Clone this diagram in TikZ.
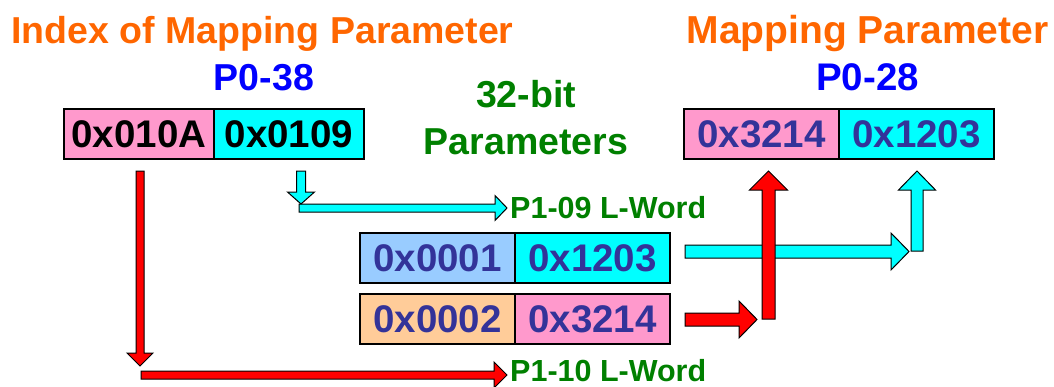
\documentclass[tikz,border=0pt]{standalone}
\usepackage{fontspec}
\setmainfont{Liberation Sans}
\usepackage{xcolor}
\usetikzlibrary{calc,positioning}

\definecolor{titleorange}{HTML}{FF6600}
\definecolor{parblue}{HTML}{0000FF}
\definecolor{wordgreen}{HTML}{008000}
\definecolor{hexblue}{HTML}{333399}
\definecolor{cellpink}{HTML}{FF99CC}
\definecolor{cellcyan}{HTML}{00FFFF}
\definecolor{cellblue}{HTML}{99CCFF}
\definecolor{cellorange}{HTML}{FFCC99}

% block arrow: fill, from, to, shaft half width, head half width, head length
\newcommand{\blkarrow}[6]{%
  \path ($(#3)!#6!(#2)$) coordinate (hb);
  \filldraw[fill=#1, draw=black, line width=1pt, line join=miter]
    ($(#2)!#4!90:(#3)$) -- ($(hb)!#4!90:(#3)$) -- ($(hb)!#5!90:(#3)$) -- (#3)
    -- ($(hb)!#5!-90:(#3)$) -- ($(hb)!#4!-90:(#3)$) -- ($(#2)!#4!-90:(#3)$) -- cycle;
}

\begin{document}
\begin{tikzpicture}[x=1pt, y=-1pt,
  heading/.style={font=\bfseries\fontsize{37.5}{45}\selectfont, text=titleorange, inner sep=0pt},
  parname/.style={font=\bfseries\fontsize{37.5}{45}\selectfont, text=parblue, inner sep=0pt},
  wordlabel/.style={font=\bfseries\fontsize{30.5}{35}\selectfont, text=wordgreen, inner sep=0pt},
  cell/.style={draw=black, line width=1.2pt, minimum height=50, inner sep=0pt, outer sep=0pt,
    font=\bfseries\fontsize{38.5}{45}\selectfont, text=hexblue}]
  \useasboundingbox (0,0) rectangle (1054,386);

  % Index of mapping parameter (P0-38)
  \node[heading, anchor=base] (idxtitle) at (262.5,43) {Index of Mapping Parameter};
  \node[parname, anchor=base] (p038) at (264,90) {P0-38};
  \node[cell, minimum width=150, fill=cellpink, text=black] (hi38) at (139,134) {0x010A};
  \node[cell, minimum width=150, fill=cellcyan, text=black, right=0pt of hi38] (lo38) {0x0109};

  % Mapping parameter (P0-28)
  \node[heading, font=\bfseries\fontsize{39}{45}\selectfont, anchor=base] (maptitle) at (867.5,43) {Mapping Parameter};
  \node[parname, font=\bfseries\fontsize{38.5}{45}\selectfont, anchor=base] (p028) at (867.5,90) {P0-28};
  \node[cell, minimum width=155, fill=cellpink] (hi28) at (761.5,134) {0x3214};
  \node[cell, minimum width=155, fill=cellcyan, right=0pt of hi28] (lo28) {0x1203};

  % 32-bit parameters
  \node[font=\bfseries\fontsize{37.5}{47}\selectfont, text=wordgreen, align=center, inner sep=0pt]
    (bits) at (526,118) {32-bit\\Parameters};
  \node[wordlabel, anchor=base west] (p109) at (510,218) {P1-09 L-Word};
  \node[wordlabel, anchor=base west] (p110) at (510,381) {P1-10 L-Word};
  \node[cell, minimum width=155, fill=cellblue] (hi109) at (437.5,258) {0x0001};
  \node[cell, minimum width=155, fill=cellcyan, right=0pt of hi109] (lo109) {0x1203};
  \node[cell, minimum width=155, fill=cellorange] (hi110) at (437.5,319) {0x0002};
  \node[cell, minimum width=155, fill=cellpink, right=0pt of hi110] (lo110) {0x3214};

  % P0-38 words into P1-09 / P1-10
  \coordinate (rs) at ($(hi38.south)+(1,12)$);
  \coordinate (rc) at ($(hi38.south)+(1,207)$);
  \coordinate (rb) at ($(hi38.south)+(2,216)$);
  \coordinate (re) at ($(p110.base west)+(-3,-6)$);
  \blkarrow{red}{rb}{re}{4pt}{13pt}{13pt}
  \blkarrow{red}{rs}{rc}{4pt}{13pt}{13pt}

  \coordinate (cs) at ($(lo38.south)+(12,12)$);
  \coordinate (cc) at ($(lo38.south)+(12,45)$);
  \coordinate (cb) at ($(lo38.south)+(10,49)$);
  \coordinate (ce) at ($(p109.base west)+(-3,-10)$);
  \blkarrow{cellcyan}{cb}{ce}{4pt}{12.5pt}{12pt}
  \blkarrow{cellcyan}{cs}{cc}{4.5pt}{13.5pt}{12pt}

  % 32-bit words into P0-28
  \coordinate (ls) at ($(lo109.east)+(15,-6.5)$);
  \coordinate (lc) at ($(lo109.east)+(239,-6.5)$);
  \coordinate (lb) at ($(lo28.south)+(0.5,92)$);
  \coordinate (le) at ($(lo28.south)+(0.5,12)$);
  \blkarrow{cellcyan}{ls}{lc}{6.5pt}{18.5pt}{18pt}
  \blkarrow{cellcyan}{lb}{le}{6pt}{18.5pt}{19pt}

  \coordinate (hs) at ($(lo110.east)+(15,0.5)$);
  \coordinate (hc) at ($(lo110.east)+(87,0.5)$);
  \coordinate (hbot) at ($(hi28.south)+(7,160)$);
  \coordinate (he) at ($(hi28.south)+(7,12)$);
  \blkarrow{red}{hs}{hc}{6.5pt}{18.5pt}{18pt}
  \blkarrow{red}{hbot}{he}{6.5pt}{19pt}{19pt}
\end{tikzpicture}
\end{document}
